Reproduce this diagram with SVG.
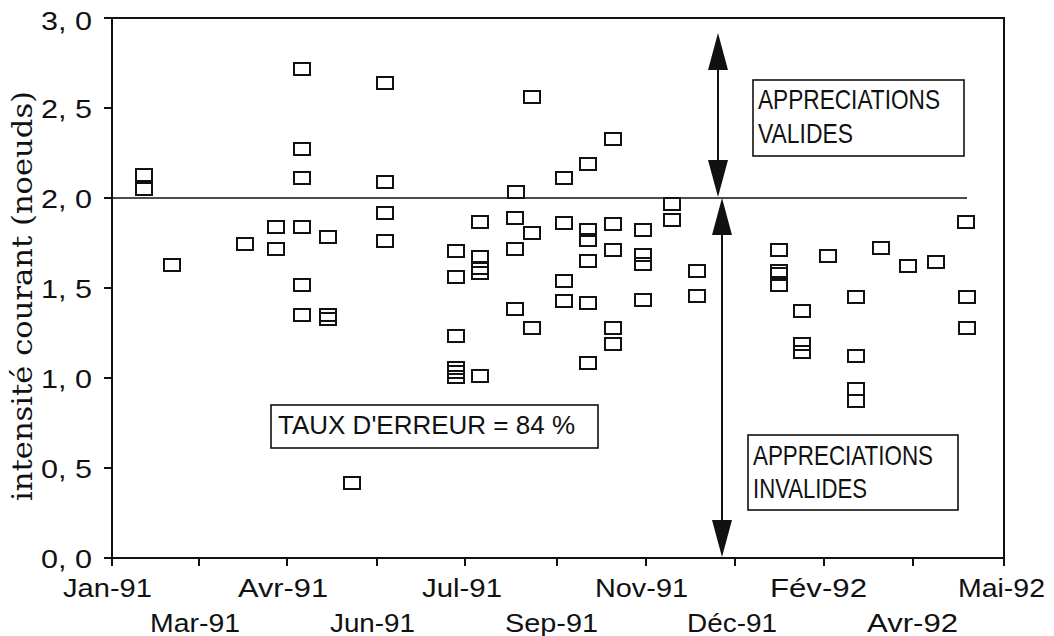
<svg xmlns="http://www.w3.org/2000/svg" xmlns:xlink="http://www.w3.org/1999/xlink" width="1054" height="636" viewBox="0 0 1054 636">
<style>
.bg{fill:#fff}
.frame{fill:none;stroke:#111;stroke-width:2}
.tick{stroke:#111;stroke-width:2}
.m{fill:none;stroke:#111;stroke-width:2}
.ref{stroke:#111;stroke-width:1.5}
.arr{stroke:#111;stroke-width:2;fill:none}
.box{fill:#fff;stroke:#111;stroke-width:1.6}
.lbl{font-family:"Liberation Sans",Arial,sans-serif;font-size:26px;fill:#111}
.ylbl{font-family:"Liberation Sans",Arial,sans-serif;font-size:26px;fill:#111}
.ttl{font-family:"DejaVu Serif","Liberation Serif",serif;font-size:28px;fill:#111}
.bt{font-family:"Liberation Sans",Arial,sans-serif;font-size:28px;fill:#111}
</style>
<defs>
<rect id="sq" class="m" x="-8" y="-6" width="16" height="12"/>
<marker id="ah" viewBox="0 0 37 20" refX="33" refY="10" markerWidth="37" markerHeight="20" markerUnits="userSpaceOnUse" orient="auto-start-reverse">
<path d="M0,0 L37,10 L0,20 z" fill="#111"/>
</marker>
</defs>
<rect class="bg" x="0" y="0" width="1054" height="636"/>

<g id="axes">
<rect class="frame" x="112" y="18" width="892" height="540"/>
<path class="tick" d="M104,18H112 M104,108H112 M104,198H112 M104,288H112 M104,378H112 M104,468H112 M104,558H112"/>
<path class="tick" d="M112,558V566 M199,558V566 M287,558V566 M377,558V566 M465,558V566 M557,558V566 M646,558V566 M735,558V566 M824,558V566 M913,558V566 M1004,558V566"/>
<text class="ylbl" x="41" y="30" textLength="51" lengthAdjust="spacingAndGlyphs">3, 0</text>
<text class="ylbl" x="41" y="118" textLength="51" lengthAdjust="spacingAndGlyphs">2, 5</text>
<text class="ylbl" x="41" y="208" textLength="51" lengthAdjust="spacingAndGlyphs">2, 0</text>
<text class="ylbl" x="41" y="298" textLength="51" lengthAdjust="spacingAndGlyphs">1, 5</text>
<text class="ylbl" x="41" y="388" textLength="51" lengthAdjust="spacingAndGlyphs">1, 0</text>
<text class="ylbl" x="41" y="478" textLength="51" lengthAdjust="spacingAndGlyphs">0, 5</text>
<text class="ylbl" x="41" y="568" textLength="51" lengthAdjust="spacingAndGlyphs">0, 0</text>
<text class="lbl" x="63" y="597" textLength="89" lengthAdjust="spacingAndGlyphs">Jan-91</text>
<text class="lbl" x="150" y="632" textLength="90" lengthAdjust="spacingAndGlyphs">Mar-91</text>
<text class="lbl" x="238" y="597" textLength="90" lengthAdjust="spacingAndGlyphs">Avr-91</text>
<text class="lbl" x="330" y="632" textLength="85" lengthAdjust="spacingAndGlyphs">Jun-91</text>
<text class="lbl" x="422" y="597" textLength="80" lengthAdjust="spacingAndGlyphs">Jul-91</text>
<text class="lbl" x="505" y="632" textLength="93" lengthAdjust="spacingAndGlyphs">Sep-91</text>
<text class="lbl" x="595" y="597" textLength="93" lengthAdjust="spacingAndGlyphs">Nov-91</text>
<text class="lbl" x="687" y="632" textLength="90" lengthAdjust="spacingAndGlyphs">Déc-91</text>
<text class="lbl" x="770" y="597" textLength="97" lengthAdjust="spacingAndGlyphs">Fév-92</text>
<text class="lbl" x="867" y="632" textLength="91" lengthAdjust="spacingAndGlyphs">Avr-92</text>
<text class="lbl" x="958" y="597" textLength="87" lengthAdjust="spacingAndGlyphs">Mai-92</text>
<text class="ttl" transform="translate(32,296) rotate(-90)" text-anchor="middle" textLength="410" lengthAdjust="spacingAndGlyphs">intensité courant (noeuds)</text>
</g>

<g id="connectors">
<line class="ref" x1="112" y1="198" x2="967" y2="198"/>
<line class="arr" x1="718" y1="37" x2="718" y2="193" marker-start="url(#ah)" marker-end="url(#ah)"/>
<line class="arr" x1="722" y1="202" x2="722" y2="553" marker-start="url(#ah)" marker-end="url(#ah)"/>
</g>

<g id="data">
<use href="#sq" x="144" y="175"/><use href="#sq" x="144" y="189"/>
<use href="#sq" x="172" y="265"/>
<use href="#sq" x="245" y="244"/>
<use href="#sq" x="276" y="227"/><use href="#sq" x="276" y="249"/>
<use href="#sq" x="302" y="69"/><use href="#sq" x="302" y="149"/><use href="#sq" x="302" y="178"/><use href="#sq" x="302" y="227"/><use href="#sq" x="302" y="285"/><use href="#sq" x="302" y="315"/>
<use href="#sq" x="328" y="237"/><use href="#sq" x="328" y="315"/><use href="#sq" x="328" y="319"/>
<use href="#sq" x="352" y="483"/>
<use href="#sq" x="385" y="83"/><use href="#sq" x="385" y="182"/><use href="#sq" x="385" y="213"/><use href="#sq" x="385" y="241"/>
<use href="#sq" x="456" y="251"/><use href="#sq" x="456" y="277"/><use href="#sq" x="456" y="336"/><use href="#sq" x="456" y="368"/><use href="#sq" x="456" y="372"/><use href="#sq" x="456" y="377"/>
<use href="#sq" x="480" y="222"/><use href="#sq" x="480" y="257"/><use href="#sq" x="480" y="268"/><use href="#sq" x="480" y="273"/><use href="#sq" x="480" y="376"/>
<use href="#sq" x="516" y="192"/><use href="#sq" x="515" y="218"/><use href="#sq" x="515" y="249"/><use href="#sq" x="515" y="309"/>
<use href="#sq" x="532" y="97"/><use href="#sq" x="532" y="233"/><use href="#sq" x="532" y="328"/>
<use href="#sq" x="564" y="178"/><use href="#sq" x="564" y="223"/><use href="#sq" x="564" y="281"/><use href="#sq" x="564" y="301"/>
<use href="#sq" x="588" y="164"/><use href="#sq" x="588" y="230"/><use href="#sq" x="588" y="240"/><use href="#sq" x="588" y="261"/><use href="#sq" x="588" y="303"/><use href="#sq" x="588" y="363"/>
<use href="#sq" x="613" y="139"/><use href="#sq" x="613" y="224"/><use href="#sq" x="613" y="250"/><use href="#sq" x="613" y="328"/><use href="#sq" x="613" y="344"/>
<use href="#sq" x="643" y="230"/><use href="#sq" x="643" y="255"/><use href="#sq" x="643" y="264"/><use href="#sq" x="643" y="300"/>
<use href="#sq" x="672" y="204"/><use href="#sq" x="672" y="220"/>
<use href="#sq" x="697" y="271"/><use href="#sq" x="697" y="296"/>
<use href="#sq" x="779" y="250"/><use href="#sq" x="779" y="271"/><use href="#sq" x="779" y="274"/><use href="#sq" x="779" y="285"/>
<use href="#sq" x="802" y="311"/><use href="#sq" x="802" y="344"/><use href="#sq" x="802" y="352"/>
<use href="#sq" x="828" y="256"/>
<use href="#sq" x="856" y="297"/><use href="#sq" x="856" y="356"/><use href="#sq" x="856" y="389"/><use href="#sq" x="856" y="401"/>
<use href="#sq" x="881" y="248"/>
<use href="#sq" x="908" y="266"/>
<use href="#sq" x="936" y="262"/>
<use href="#sq" x="966" y="222"/><use href="#sq" x="967" y="297"/><use href="#sq" x="967" y="328"/>
</g>

<g id="valides">
<rect class="box" x="753" y="80" width="211" height="76"/>
<text class="bt" x="758" y="109" textLength="182" lengthAdjust="spacingAndGlyphs">APPRECIATIONS</text>
<text class="bt" x="758" y="143" textLength="95" lengthAdjust="spacingAndGlyphs">VALIDES</text>
</g>

<g id="invalides">
<rect class="box" x="748" y="435" width="210" height="75"/>
<text class="bt" x="753" y="465" textLength="180" lengthAdjust="spacingAndGlyphs">APPRECIATIONS</text>
<text class="bt" x="753" y="498" textLength="114" lengthAdjust="spacingAndGlyphs">INVALIDES</text>
</g>

<g id="taux">
<rect class="box" x="271" y="405" width="327" height="43"/>
<text class="bt" style="font-size:25px" x="278" y="434" textLength="297" lengthAdjust="spacingAndGlyphs">TAUX D'ERREUR = 84 %</text>
</g>
</svg>
